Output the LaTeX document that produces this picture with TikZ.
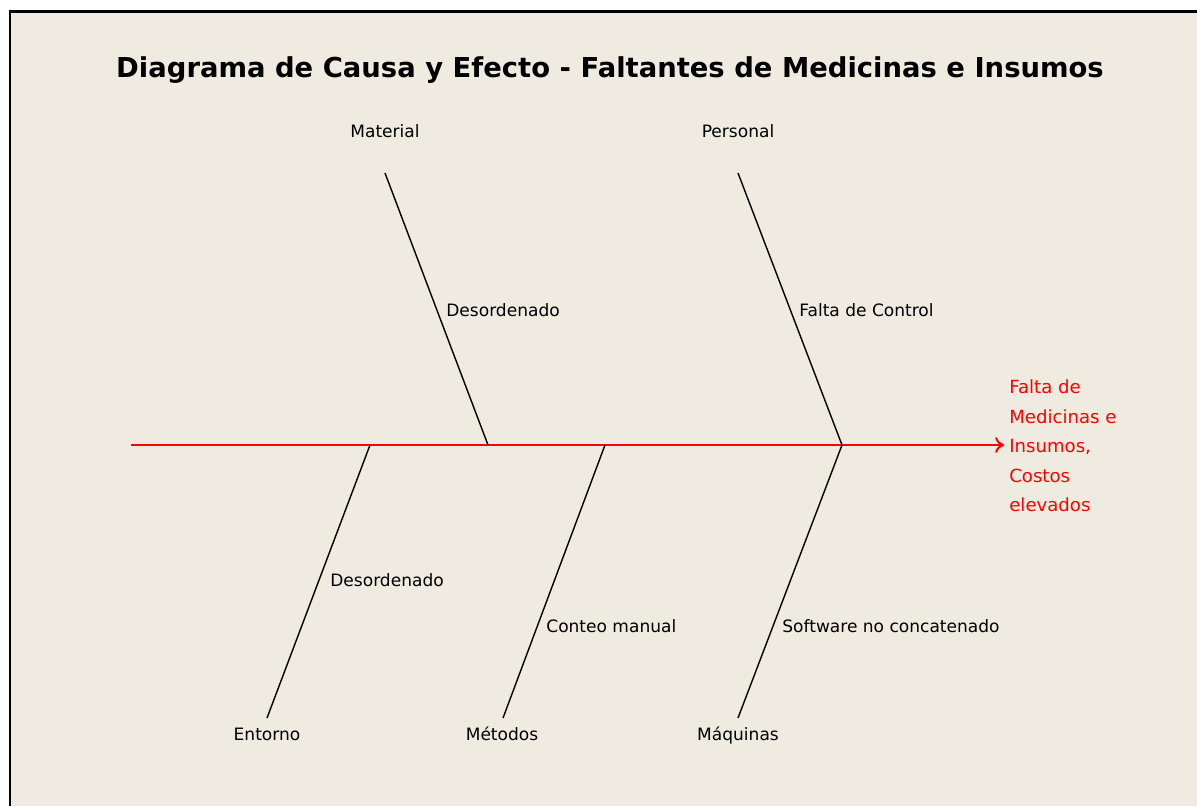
\documentclass[tikz,border=0pt]{standalone}
\usepackage{fontspec}
\setmainfont{DejaVu Sans}
\usetikzlibrary{arrows.meta}

\definecolor{fondo}{HTML}{EFEBE1}
\tikzset{
  hueso/.style={black, line width=0.8pt},
  espina/.style={red, line width=1.1pt, -{To[length=5pt,width=9pt]}},
  causa/.style={inner sep=0pt, text height=1.6ex, text depth=0.4ex,
                font=\fontsize{9.7}{11}\selectfont},
  subcausa/.style={inner sep=0pt, anchor=west, font=\fontsize{9.7}{11}\selectfont}
}

\begin{document}
\begin{tikzpicture}[x=0.02cm, y=-0.02cm]
  \useasboundingbox (0,0) rectangle (1197,806);
  \fill [fondo] (10,11) rectangle (1197,806);
  \draw [black, line width=1.7pt] (10,806) -- (10,11) -- (1197,11);

  \node [inner sep=0pt, font=\fontsize{15.6}{19}\selectfont\bfseries] (titulo) at (610,70)
    {Diagrama de Causa y Efecto - Faltantes de Medicinas e Insumos};

  % espina principal
  \coordinate (cola) at (131,445);
  \coordinate (punta) at (1004,445);
  \draw [espina] (cola) -- (punta);
  \node [inner sep=0pt, anchor=west, red, align=left,
         font=\fontsize{10.3}{16.8}\selectfont] (efecto) at (1009,446)
    {Falta de\\Medicinas e\\Insumos,\\Costos\\elevados};

  % puntos sobre la espina
  \coordinate (p1) at (488,445);
  \coordinate (p2) at (842,445);
  \coordinate (p3) at (370,445);
  \coordinate (p4) at (605,445);

  % huesos superiores
  \coordinate (material) at (385,173);
  \coordinate (personal) at (738,173);
  \node [causa] (lmaterial) at (385,132) {Material};
  \node [causa] (lpersonal) at (738,132) {Personal};
  \draw [hueso] (material) -- (p1);
  \draw [hueso] (personal) -- (p2);
  \node [subcausa] (desorden1) at (446,310) {Desordenado};
  \node [subcausa] (control) at (799,310) {Falta de Control};

  % huesos inferiores
  \coordinate (entorno) at (267,718);
  \coordinate (metodos) at (503,718);
  \coordinate (maquinas) at (738,718);
  \node [causa] (lentorno) at (267,735) {Entorno};
  \node [causa] (lmetodos) at (502,735) {Métodos};
  \node [causa] (lmaquinas) at (738,735) {Máquinas};
  \draw [hueso] (entorno) -- (p3);
  \draw [hueso] (metodos) -- (p4);
  \draw [hueso] (maquinas) -- (p2);
  \node [subcausa] (desorden2) at (330,580) {Desordenado};
  \node [subcausa] (conteo) at (546,626) {Conteo manual};
  \node [subcausa] (software) at (782,626) {Software no concatenado};
\end{tikzpicture}
\end{document}
